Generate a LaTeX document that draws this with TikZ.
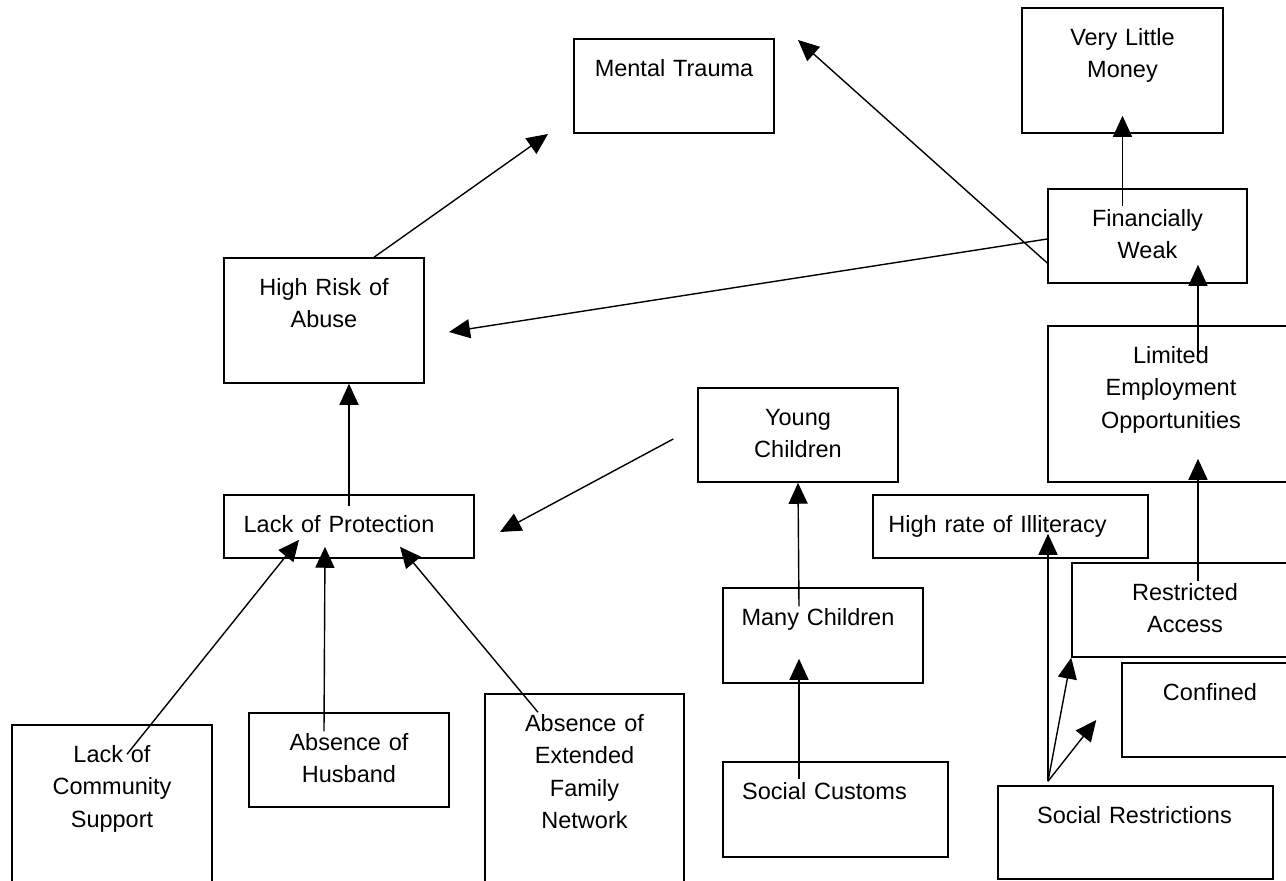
\documentclass[tikz,border=0pt]{standalone}
\usepackage{fontspec}
\setmainfont{Liberation Sans}
\usetikzlibrary{arrows.meta}

\begin{document}
\begin{tikzpicture}[x=1pt, y=-1pt,
    box/.style={draw, line width=1.5pt, inner sep=0pt},
    txt/.style={anchor=base, text width=250pt, align=center, inner sep=0pt, font=\fontsize{23.5}{32.5}\selectfont},
    link/.style={line width=1.4pt, -{Triangle[length=21pt, width=19pt]}}]
    \clip (0,0) rectangle (1286,881);
    % boxes
    \node[box, minimum width=200pt, minimum height=94pt] (trauma) at (674,86) {};
    \node[box, minimum width=201pt, minimum height=125pt] (money) at (1122.5,70.5) {};
    \node[box, minimum width=199pt, minimum height=94pt] (weak) at (1147.5,236) {};
    \node[box, minimum width=200pt, minimum height=125pt] (risk) at (324,320.5) {};
    \node[box, minimum width=248pt, minimum height=156pt] (limited) at (1172,404) {};
    \node[box, minimum width=200pt, minimum height=94pt] (young) at (798,435) {};
    \node[box, minimum width=250pt, minimum height=63pt] (protect) at (349,526.5) {};
    \node[box, minimum width=275pt, minimum height=63pt] (illit) at (1010.5,526.5) {};
    \node[box, minimum width=226pt, minimum height=94pt] (restrict) at (1185,610) {};
    \node[box, minimum width=200pt, minimum height=95pt] (many) at (823,635.5) {};
    \node[box, minimum width=176pt, minimum height=94pt] (confined) at (1210,710) {};
    \node[box, minimum width=200pt, minimum height=175pt] (community) at (112,812.5) {};
    \node[box, minimum width=200pt, minimum height=94pt] (husband) at (349,760) {};
    \node[box, minimum width=199pt, minimum height=206pt] (extended) at (584.5,797) {};
    \node[box, minimum width=225pt, minimum height=95pt] (customs) at (835.5,809.5) {};
    \node[box, minimum width=275pt, minimum height=93pt] (restrictions) at (1135.5,832.5) {};
    % labels
    \node[txt] (traumatext) at ([yshift=-38pt]trauma.north) {Mental Trauma};
    \node[txt] (moneytext) at ([yshift=-38pt]money.north) {Very Little\\Money};
    \node[txt] (weaktext) at ([yshift=-38pt]weak.north) {Financially\\Weak};
    \node[txt] (risktext) at ([yshift=-38pt]risk.north) {High Risk of\\Abuse};
    \node[txt] (limitedtext) at ([xshift=-1pt,yshift=-38pt]limited.north) {Limited\\Employment\\Opportunities};
    \node[txt] (youngtext) at ([yshift=-38pt]young.north) {Young\\Children};
    \node[txt] (protecttext) at ([xshift=-10pt,yshift=-38pt]protect.north) {Lack of Protection};
    \node[txt] (illittext) at ([xshift=-13pt,yshift=-38pt]illit.north) {High rate of Illiteracy};
    \node[txt] (restricttext) at ([yshift=-38pt]restrict.north) {Restricted\\Access};
    \node[txt] (manytext) at ([xshift=-5pt,yshift=-38pt]many.north) {Many Children};
    \node[txt] (confinedtext) at ([yshift=-38pt]confined.north) {Confined};
    \node[txt] (communitytext) at ([yshift=-38pt]community.north) {Lack of\\Community\\Support};
    \node[txt] (husbandtext) at ([yshift=-38pt]husband.north) {Absence of\\Husband};
    \node[txt] (extendedtext) at ([yshift=-38pt]extended.north) {Absence of\\Extended\\Family\\Network};
    \node[txt] (customstext) at ([xshift=-11pt,yshift=-38pt]customs.north) {Social Customs};
    \node[txt] (restrictionstext) at ([xshift=-1pt,yshift=-38pt]restrictions.north) {Social Restrictions};
    % free ends
    \coordinate (traumaL) at (548,134);
    \coordinate (traumaR) at (798,40);
    \coordinate (riskR) at (449,332);
    \coordinate (protectR) at (500,532);
    \coordinate (youngL) at ([xshift=-24pt,yshift=-4pt]young.west);
    \coordinate (srtop) at ([xshift=-87.5pt,yshift=4pt]restrictions.north);
    % arrows
    \draw[link] ([xshift=50pt]risk.north) -- (traumaL);
    \draw[link] ([yshift=-27pt]weak.west) -- (traumaR);
    \draw[link] ([yshift=-3pt]weak.west) -- (riskR);
    \draw[link] ([xshift=-25pt,yshift=-18pt]weak.north) -- ([yshift=18pt]money.south);
    \draw[link] ([xshift=26pt,yshift=-36pt]limited.north) -- ([xshift=50.5pt,yshift=19pt]weak.south);
    \draw[link] ([yshift=-12pt]protect.north) -- ([xshift=25pt]risk.south);
    \draw[link] (youngL) -- (protectR);
    \draw[link] ([xshift=15pt,yshift=-30pt]community.north) -- ([xshift=-50pt,yshift=19pt]protect.south);
    \draw[link] ([xshift=-25pt,yshift=-19pt]husband.north) -- ([xshift=-24pt,yshift=12pt]protect.south);
    \draw[link] ([xshift=-46.5pt,yshift=-19pt]extended.north) -- ([xshift=51pt,yshift=12pt]protect.south);
    \draw[link] ([xshift=-24pt,yshift=-19pt]many.north) -- (young.south);
    \draw[link] ([xshift=-36.5pt,yshift=-18pt]customs.north) -- ([xshift=-24pt,yshift=25pt]many.south);
    \draw[link] (srtop) -- ([xshift=37.5pt,yshift=25pt]illit.south);
    \draw[link] (srtop) -- (restrict.south west);
    \draw[link] (srtop) -- ([xshift=-25pt,yshift=-10pt]confined.west);
    \draw[link] ([xshift=13pt,yshift=-19pt]restrict.north) -- ([xshift=26pt,yshift=24pt]limited.south);
\end{tikzpicture}
\end{document}
